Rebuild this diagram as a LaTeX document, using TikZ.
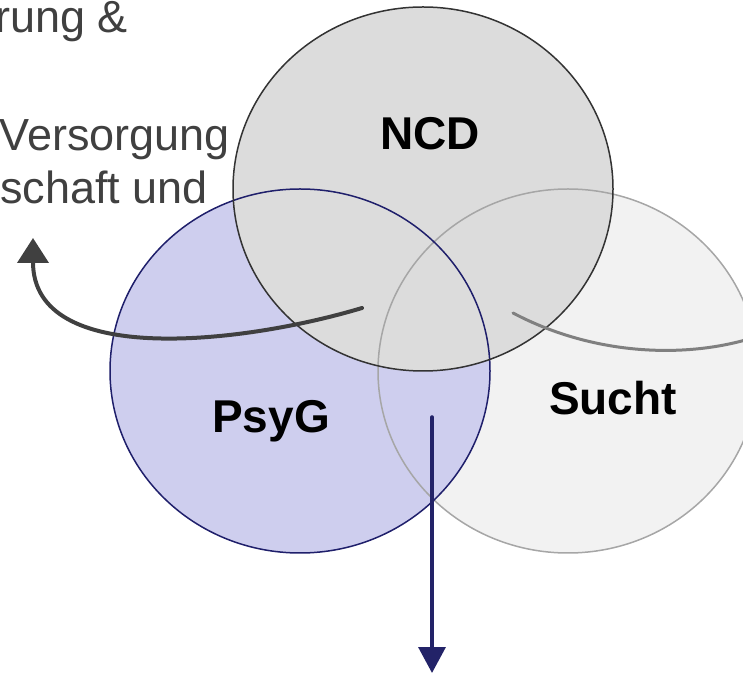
\documentclass[tikz,border=0pt]{standalone}
\usepackage{fontspec}
\setmainfont{Liberation Sans}
\usetikzlibrary{arrows.meta}
\definecolor{ncdfill}{HTML}{DCDCDC}
\definecolor{ncdline}{HTML}{333333}
\definecolor{psygfill}{HTML}{CECEEE}
\definecolor{psygline}{HTML}{1F1F6B}
\definecolor{suchtfill}{HTML}{F2F2F2}
\definecolor{suchtline}{HTML}{A6A6A6}
\definecolor{txtgray}{HTML}{404040}
\definecolor{arrgray}{HTML}{808080}
\definecolor{arrnavy}{HTML}{232368}
\begin{document}
\begin{tikzpicture}[x=1pt, y=1pt, line join = round, line cap = round,
	lbl/.style={font=\fontsize{46}{52}\selectfont\bfseries, anchor=base, inner sep=0pt},
	txt/.style={font=\fontsize{45}{52}\selectfont, text=txtgray, anchor=base east, inner sep=0pt}]
	\useasboundingbox (0,0) rectangle (743,674);
	%Ba vòng tròn
	\def\rx{190}     \def\ry{182}
	\coordinate (ncd) at (423,485);
	\coordinate (psyg) at (300,303);
	\coordinate (sucht) at (568,303);
	\foreach \c in {sucht,psyg,ncd}
	\fill[\c fill] (\c) ellipse [x radius=\rx, y radius=\ry];
	\foreach \c in {sucht,psyg,ncd}
	\draw[\c line, line width=1.5] (\c) ellipse [x radius=\rx, y radius=\ry];
	%Nhãn
	\node[lbl] (ncdlbl) at (430,524) {NCD};
	\node[lbl] (psyglbl) at (271,241) {PsyG};
	\node[lbl] (suchtlbl) at (613,259) {Sucht};
	%Chữ bên trái
	\node[txt] (t1) at (128,641) {rung \&};
	\node[txt] (t2) at (230,523) {Versorgung};
	\node[txt] (t3) at (208,470) {schaft und};
	%Các mũi tên
	\coordinate (a1) at (362,366);  \coordinate (b1) at (33,436);
	\coordinate (a2) at (513,361);  \coordinate (b2) at (790,350);
	\coordinate (a3) at (432,257);  \coordinate (b3) at (432,1);
	\draw[txtgray, line width=4, -{Triangle[width=31pt,length=25pt]}]
		(a1) .. controls (242,330) and (33,306) .. (b1);
	\draw[arrgray, line width=3, -{Triangle[width=26pt,length=24pt]}]
		(a2) .. controls (600,315) and (700,315) .. (b2);
	\draw[arrnavy, line width=3.5, -{Triangle[width=27pt,length=26pt]}] (a3) -- (b3);
\end{tikzpicture}
\end{document}
